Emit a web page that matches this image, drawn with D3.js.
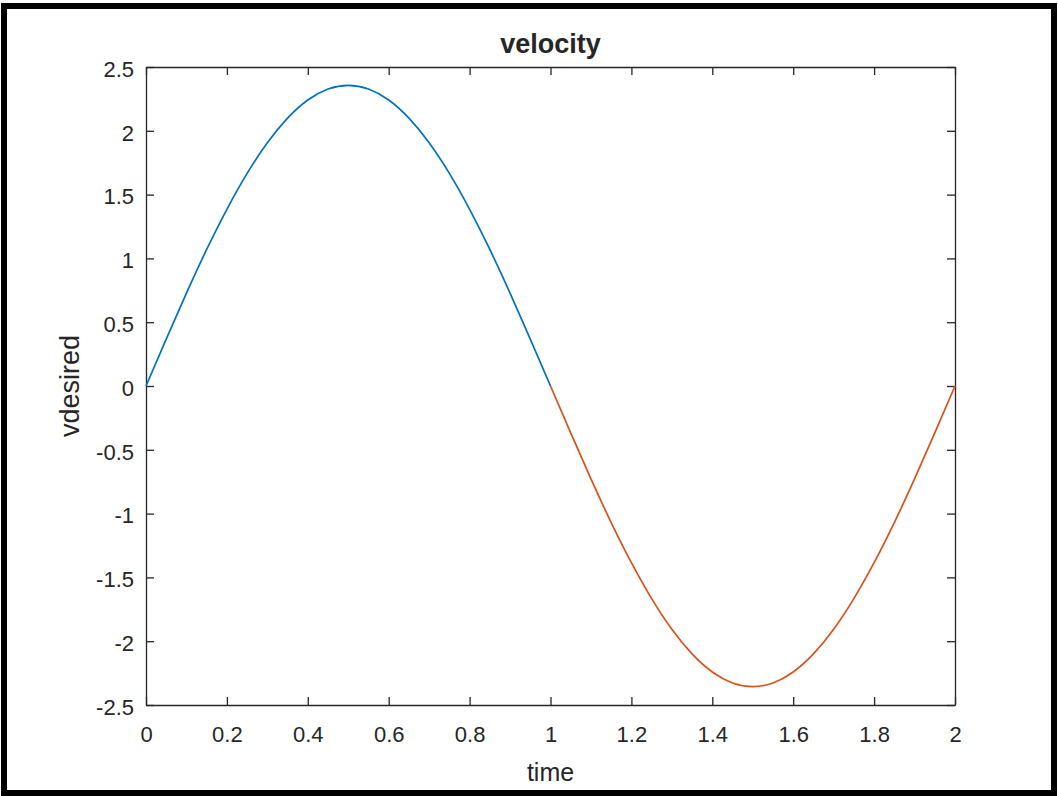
<!DOCTYPE html>
<html>
<head>
<meta charset="utf-8">
<script src="https://cdn.jsdelivr.net/npm/d3@7"></script>
<style>
  body { margin: 0; background: #fff; }
  svg { display: block; }
  text { font-family: "Liberation Sans", Arial, sans-serif; fill: #262626; }
</style>
</head>
<body>
<svg width="1058" height="796"></svg>
<script>
// time samples and velocity
var timeUp = [0, 0.05, 0.1, 0.15, 0.2, 0.25, 0.3, 0.35, 0.4, 0.45, 0.5,
              0.55, 0.6, 0.65, 0.7, 0.75, 0.8, 0.85, 0.9, 0.95, 1];
var velUp = [0, 0.368, 0.728, 1.070, 1.385, 1.666, 1.906, 2.099, 2.241, 2.327, 2.356,
             2.327, 2.241, 2.099, 1.906, 1.666, 1.385, 1.070, 0.728, 0.368, 0];
var timeDown = [1, 1.05, 1.1, 1.15, 1.2, 1.25, 1.3, 1.35, 1.4, 1.45, 1.5,
                1.55, 1.6, 1.65, 1.7, 1.75, 1.8, 1.85, 1.9, 1.95, 2];
var velDown = [0, -0.368, -0.728, -1.070, -1.385, -1.666, -1.906, -2.099, -2.241, -2.327, -2.356,
               -2.327, -2.241, -2.099, -1.906, -1.666, -1.385, -1.070, -0.728, -0.368, 0];
var xTicks = [0, 0.2, 0.4, 0.6, 0.8, 1, 1.2, 1.4, 1.6, 1.8, 2];
var yTicks = [-2.5, -2, -1.5, -1, -0.5, 0, 0.5, 1, 1.5, 2, 2.5];
var seriesColors = ["#0072BD", "#D95319"];

window.onload = main;

function main() {
    var svg = d3.select("svg");

    // outer frame of the screenshot
    svg.append("rect")
        .attr("x", 4).attr("y", 6)
        .attr("width", 1050).attr("height", 787)
        .attr("fill", "none")
        .attr("stroke", "#000")
        .attr("stroke-width", 6);

    var x0 = 146, x1 = 955, y0 = 67, y1 = 705;

    var x = d3.scaleLinear().domain([0, 2]).range([x0, x1]);
    var y = d3.scaleLinear().domain([-2.5, 2.5]).range([y1, y0]);

    var fmt = function (d) { return String(d); };

    // axes with inward ticks (matlab style)
    var gx = svg.append("g").attr("transform", "translate(0," + y1 + ")")
        .call(d3.axisBottom(x).tickValues(xTicks).tickFormat(fmt).tickSizeInner(-8).tickSizeOuter(0).tickPadding(21));
    var gxt = svg.append("g").attr("transform", "translate(0," + y0 + ")")
        .call(d3.axisTop(x).tickValues(xTicks).tickFormat("").tickSizeInner(-8).tickSizeOuter(0));
    var gy = svg.append("g").attr("transform", "translate(" + x0 + ",0)")
        .call(d3.axisLeft(y).tickValues(yTicks).tickFormat(fmt).tickSizeInner(-8).tickSizeOuter(0).tickPadding(12));
    var gyr = svg.append("g").attr("transform", "translate(" + x1 + ",0)")
        .call(d3.axisRight(y).tickValues(yTicks).tickFormat("").tickSizeInner(-8).tickSizeOuter(0));

    [gx, gxt, gy, gyr].forEach(function (g) {
        g.select(".domain").attr("stroke", "#262626").attr("stroke-width", 1.3);
        g.selectAll(".tick line").attr("stroke", "#262626").attr("stroke-width", 1.3);
        g.selectAll(".tick text")
            .attr("font-size", 22)
            .attr("font-family", "Liberation Sans, Arial, sans-serif")
            .attr("fill", "#262626");
    });
    gy.selectAll(".tick text").attr("dy", "0.42em");

    // lines
    var line = d3.line()
        .x(function (d) { return x(d[0]); })
        .y(function (d) { return y(d[1]); })
        .curve(d3.curveNatural);

    var series = [d3.zip(timeUp, velUp), d3.zip(timeDown, velDown)];
    svg.selectAll("path.series")
        .data(series)
        .enter()
        .append("path")
        .attr("class", "series")
        .attr("d", line)
        .attr("fill", "none")
        .attr("stroke", function (d, i) { return seriesColors[i]; })
        .attr("stroke-width", 1.7);

    // title and labels
    svg.append("text")
        .attr("x", (x0 + x1) / 2).attr("y", 53)
        .attr("text-anchor", "middle")
        .attr("font-size", 27).attr("font-weight", "bold")
        .text("velocity");

    svg.append("text")
        .attr("x", (x0 + x1) / 2).attr("y", 781)
        .attr("text-anchor", "middle")
        .attr("font-size", 25)
        .text("time");

    svg.append("text")
        .attr("transform", "translate(79," + (y0 + y1) / 2 + ") rotate(-90)")
        .attr("text-anchor", "middle")
        .attr("font-size", 27)
        .text("vdesired");
}
</script>
</body>
</html>
